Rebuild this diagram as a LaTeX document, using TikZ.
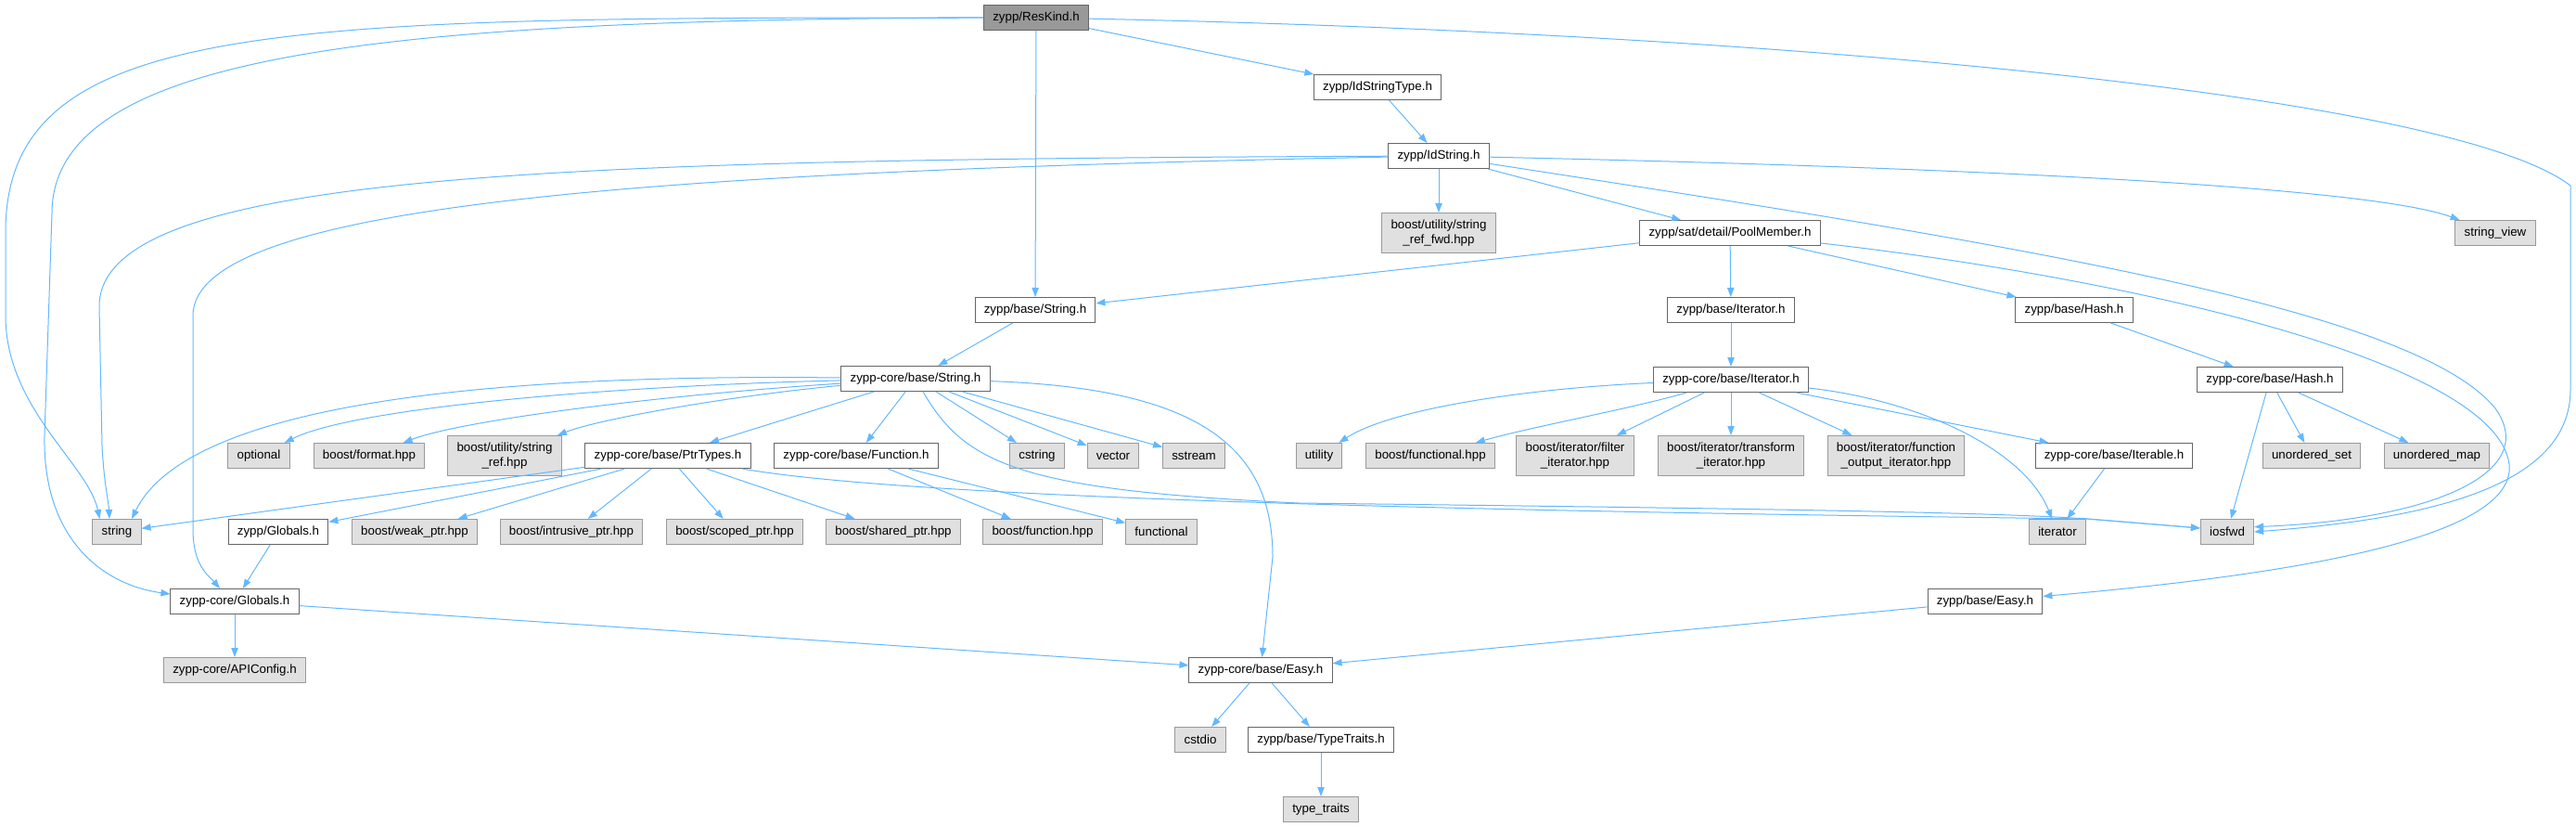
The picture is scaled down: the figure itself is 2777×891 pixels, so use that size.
\documentclass[tikz,border=0pt]{standalone}
\usepackage{fontspec}
\setmainfont{Liberation Sans}
\usetikzlibrary{arrows.meta}
\definecolor{edgeblue}{HTML}{63B8FF}
\definecolor{boxline}{HTML}{666666}
\definecolor{extline}{HTML}{999999}
\definecolor{extfill}{HTML}{E0E0E0}
\definecolor{rootfill}{HTML}{999999}

\begin{document}
\begin{tikzpicture}[x=0.75pt, y=-0.75pt,
  every node/.style={font=\fontsize{10}{11.5}\selectfont, inner xsep=7.3pt,
    inner ysep=2pt, minimum height=20.25pt, line width=0.75pt},
  hdr/.style={draw=boxline, fill=white},
  sys/.style={draw=extline, fill=extfill},
  two/.style={align=center, minimum height=32.25pt},
  inc/.style={draw=edgeblue, line width=0.75pt,
    -{Triangle[length=7.5pt,width=5.5pt]}}]
\useasboundingbox (0,0) rectangle (2777,891);
\node[draw=boxline, fill=rootfill] (reskind) at (1117,19) {zypp/ResKind.h};
\node[hdr] (idstype)  at (1485,94)  {zypp/IdStringType.h};
\node[hdr] (idstring) at (1551,168) {zypp/IdString.h};
\node[sys, two] (strref) at (1551,251) {boost/utility/string\\\_ref\_fwd.hpp};
\node[hdr] (poolmem) at (1865,251) {zypp/sat/detail/PoolMember.h};
\node[sys] (strview) at (2690,251) {string\_view};
\node[hdr] (bstring) at (1116,334) {zypp/base/String.h};
\node[hdr] (biter)   at (1866,334) {zypp/base/Iterator.h};
\node[hdr] (bhash)   at (2236,334) {zypp/base/Hash.h};
\node[hdr] (corestr)  at (987,408)  {zypp-core/base/String.h};
\node[hdr] (coreiter) at (1866,409) {zypp-core/base/Iterator.h};
\node[hdr] (corehash) at (2447,409) {zypp-core/base/Hash.h};
\node[sys] (optional) at (279,491) {optional};
\node[sys] (bformat)  at (398,491) {boost/format.hpp};
\node[sys, two] (sref) at (544,491) {boost/utility/string\\\_ref.hpp};
\node[hdr] (ptrtypes) at (720,491) {zypp-core/base/PtrTypes.h};
\node[hdr] (function) at (923,491) {zypp-core/base/Function.h};
\node[sys] (cstringh) at (1118,491) {cstring};
\node[sys] (vectorh)  at (1200,491) {vector};
\node[sys] (sstreamh) at (1287,491) {sstream};
\node[sys] (utilityh) at (1422,491) {utility};
\node[sys] (bfunctional) at (1542,491) {boost/functional.hpp};
\node[sys, two] (filteriter) at (1698,491) {boost/iterator/filter\\\_iterator.hpp};
\node[sys, two] (transiter)  at (1866,491) {boost/iterator/transform\\\_iterator.hpp};
\node[sys, two] (funcout)    at (2044,491) {boost/iterator/function\\\_output\_iterator.hpp};
\node[hdr] (iterable) at (2279,491) {zypp-core/base/Iterable.h};
\node[sys] (uset) at (2492,491) {unordered\_set};
\node[sys] (umap) at (2627,491) {unordered\_map};
\node[sys] (stringh)   at (126,573)  {string};
\node[hdr] (globals)   at (300,573)  {zypp/Globals.h};
\node[sys] (weakptr)   at (447,573)  {boost/weak\_ptr.hpp};
\node[sys] (intrptr)   at (616,573)  {boost/intrusive\_ptr.hpp};
\node[sys] (scopedptr) at (792,573)  {boost/scoped\_ptr.hpp};
\node[sys] (sharedptr) at (963,573)  {boost/shared\_ptr.hpp};
\node[sys] (bfunction) at (1124,573) {boost/function.hpp};
\node[sys] (functionalh) at (1252,573) {functional};
\node[sys] (iteratorh) at (2218,573) {iterator};
\node[sys] (iosfwdh)   at (2401,573) {iosfwd};
\node[hdr] (coreglobals) at (253,648)  {zypp-core/Globals.h};
\node[hdr] (easy)        at (2140,648) {zypp/base/Easy.h};
\node[sys] (apiconfig)   at (253,722)  {zypp-core/APIConfig.h};
\node[hdr] (coreeasy)    at (1359,722) {zypp-core/base/Easy.h};
\node[sys] (cstdioh)     at (1294,797) {cstdio};
\node[hdr] (typetraits)  at (1424,797) {zypp/base/TypeTraits.h};
\node[sys] (typetraitsh) at (1424,872) {type\_traits};

\draw[inc] (reskind) -- (idstype);
\draw[inc] (reskind) -- (bstring);
\draw[inc] (reskind) .. controls (300,19) and (6,20) .. (6,250) -- (6,340)
   .. controls (6,440) and (95,500) .. ([xshift=6pt]stringh.north west);
\draw[inc] (reskind) .. controls (400,21) and (56,60) .. (56,230) -- (48,470)
   .. controls (46,580) and (110,630) .. ([yshift=6pt]coreglobals.west);
\draw[inc] (reskind) .. controls (1900,35) and (2640,100) .. (2771,200) -- (2771,420)
   .. controls (2771,530) and (2600,560) .. (iosfwdh.east);
\draw[inc] (idstype) -- (idstring);
\draw[inc] (idstring) -- (strref);
\draw[inc] (idstring) -- (poolmem);
\draw[inc] (idstring) .. controls (2100,180) and (2550,200) .. (strview);
\draw[inc] (idstring) .. controls (2150,260) and (2600,330) .. (2690,440)
   .. controls (2740,510) and (2620,560) .. ([yshift=4pt]iosfwdh.east);
\draw[inc] (idstring) .. controls (600,172) and (107,185) .. (107,330) -- (110,480)
   .. controls (112,520) and (117,540) .. ([xshift=-6pt]stringh.north);
\draw[inc] (idstring) .. controls (700,185) and (208,220) .. (208,340) -- (208,570)
   .. controls (208,610) and (225,620) .. ([xshift=-12pt]coreglobals.north);
\draw[inc] (poolmem) -- (bstring);
\draw[inc] (poolmem) -- (biter);
\draw[inc] (poolmem) -- (bhash);
\draw[inc] (poolmem) .. controls (2300,300) and (2690,390) .. (2705,500)
   .. controls (2715,590) and (2400,625) .. (easy);
\draw[inc] (bstring) -- (corestr);
\draw[inc] (biter) -- (coreiter);
\draw[inc] (bhash) -- (corehash);
\draw[inc] (corestr) .. controls (500,402) and (200,440) .. ([xshift=12pt]stringh.north);
\draw[inc] (corestr) .. controls (650,416) and (380,440) .. (optional);
\draw[inc] (corestr) .. controls (720,425) and (500,452) .. (bformat);
\draw[inc] (corestr) .. controls (800,425) and (650,450) .. (sref);
\draw[inc] (corestr) -- (ptrtypes);
\draw[inc] (corestr) -- (function);
\draw[inc] (corestr) -- (cstringh);
\draw[inc] (corestr) -- (vectorh);
\draw[inc] (corestr) -- (sstreamh);
\draw[inc] (corestr) .. controls (1290,418) and (1372,480) .. (1372,600) -- (coreeasy);
\draw[inc] (corestr) .. controls (1040,500) and (1100,528) .. (1400,542)
   .. controls (1900,548) and (2150,552) .. (2250,559) -- ([yshift=3pt]iosfwdh.west);
\draw[inc] (ptrtypes) -- (stringh);
\draw[inc] (ptrtypes) -- (globals);
\draw[inc] (ptrtypes) -- (weakptr);
\draw[inc] (ptrtypes) -- (intrptr);
\draw[inc] (ptrtypes) -- (scopedptr);
\draw[inc] (ptrtypes) -- (sharedptr);
\draw[inc] (ptrtypes) .. controls (1000,540) and (1700,552) .. (2250,559)
   -- ([yshift=3pt]iosfwdh.west);
\draw[inc] (function) -- (bfunction);
\draw[inc] (function) -- (functionalh);
\draw[inc] (globals) -- (coreglobals);
\draw[inc] (coreglobals) -- (apiconfig);
\draw[inc] (coreglobals) -- (coreeasy);
\draw[inc] (easy) -- (coreeasy);
\draw[inc] (coreeasy) -- (cstdioh);
\draw[inc] (coreeasy) -- (typetraits);
\draw[inc] (typetraits) -- (typetraitsh);
\draw[inc] (coreiter) .. controls (1650,418) and (1500,440) .. (utilityh);
\draw[inc] (coreiter) .. controls (1760,440) and (1650,460) .. (bfunctional);
\draw[inc] (coreiter) -- (filteriter);
\draw[inc] (coreiter) -- (transiter);
\draw[inc] (coreiter) -- (funcout);
\draw[inc] (coreiter) -- (iterable);
\draw[inc] (coreiter) .. controls (2060,430) and (2180,480) .. (iteratorh);
\draw[inc] (iterable) -- (iteratorh);
\draw[inc] (corehash) -- (iosfwdh);
\draw[inc] (corehash) -- (uset);
\draw[inc] (corehash) -- (umap);
\end{tikzpicture}
\end{document}
